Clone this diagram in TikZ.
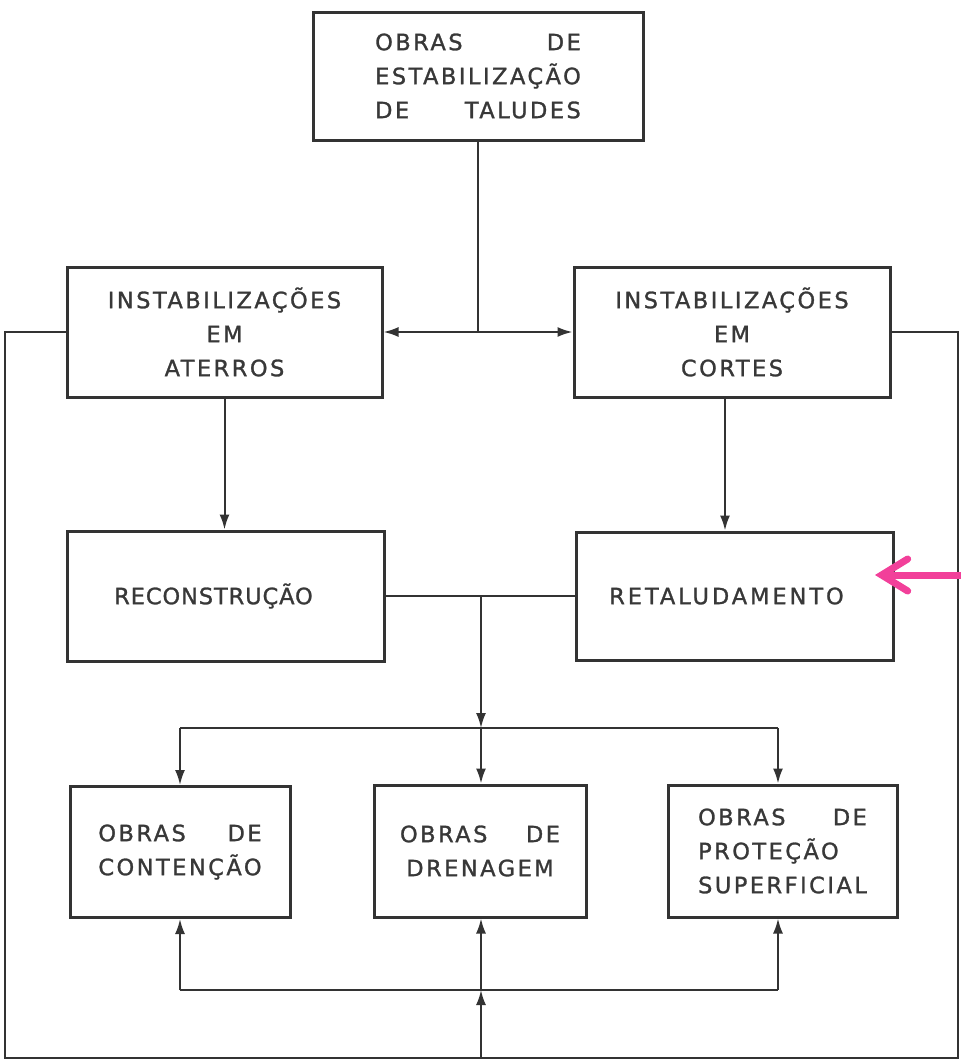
\documentclass[tikz,border=0pt]{standalone}
\usepackage{fontspec}
\usepackage{calc}
\setmainfont{DejaVu Sans}[LetterSpace=11,FakeBold=1.2]
\usetikzlibrary{arrows.meta,calc}
\definecolor{ink}{HTML}{333333}
\definecolor{txt}{HTML}{383838}
\definecolor{pinkmark}{HTML}{F2409A}
\newcommand\jline[3]{\makebox[#1][s]{#2 #3}}
\begin{document}
\begin{tikzpicture}[x=1pt,y=-1pt,
  box/.style={draw=ink,line width=3pt,rectangle,inner sep=0pt,align=center,
    text=txt,font=\fontsize{22.5}{34}\selectfont},
  conn/.style={draw=ink,line width=2pt},
  arr/.style={conn,-{Latex[length=15pt,width=10pt]}},
  darr/.style={conn,{Latex[length=15pt,width=10pt]}-{Latex[length=15pt,width=10pt]}}]
\useasboundingbox[fill=white] (0,0) rectangle (961,1061);

\node[box,minimum width=330pt,minimum height=128pt] (top) at (478,76)
  {\jline{\widthof{ESTABILIZAÇÃO}}{OBRAS}{DE}\\ESTABILIZAÇÃO\\\jline{\widthof{ESTABILIZAÇÃO}}{DE}{TALUDES}};
\node[box,minimum width=315pt,minimum height=130pt] (ater) at (224.5,332)
  {INSTABILIZAÇÕES\\EM\\ATERROS};
\node[box,minimum width=316pt,minimum height=130pt] (cort) at (732,332)
  {INSTABILIZAÇÕES\\EM\\CORTES};
\node[box,minimum width=317pt,minimum height=130pt,
  font=\fontsize{22.5}{34}\selectfont\addfontfeatures{LetterSpace=4}] (recon) at (225.5,596)
  {RECONSTRUÇÃO\hspace*{24pt}};
\node[box,minimum width=317pt,minimum height=128pt,
  font=\fontsize{22.5}{34}\selectfont\addfontfeatures{LetterSpace=13}] (retal) at (734.5,596)
  {RETALUDAMENTO\hspace*{16pt}};
\node[box,minimum width=220pt,minimum height=131pt] (cont) at (180,852)
  {\jline{\widthof{CONTENÇÃO}}{OBRAS}{DE}\\CONTENÇÃO};
\node[box,minimum width=212pt,minimum height=132pt] (dren) at (480,851)
  {\jline{160pt}{OBRAS}{DE}\\DRENAGEM};
\node[box,minimum width=229pt,minimum height=132pt] (prot) at (782.5,851)
  {\jline{\widthof{SUPERFICIAL}}{OBRAS}{DE}\\\makebox[\widthof{SUPERFICIAL}][l]{PROTEÇÃO}\\SUPERFICIAL};

% top to the two instability boxes
\draw[darr] (ater.east) -- (cort.west);
\coordinate (j1) at ($(ater.east)!0.5!(cort.west)$);
\draw[conn] (top.south) -- (top.south |- j1);

% down to reconstruction / retaludamento
\draw[arr] (ater.south) -- (ater.south |- recon.north);
\coordinate (cs) at ([xshift=-7pt]cort.south);
\draw[arr] (cs) -- (cs |- retal.north);

% link between them and bus to the bottom boxes
\draw[conn] (recon.east) -- (retal.west);
\coordinate (j2) at (481,596);
\coordinate (bus) at (481,728);
\draw[arr] (j2) -- (bus);
\coordinate (busL) at (cont.north |- bus);
\coordinate (busR) at (778,728);
\draw[conn] (busL) -- (busR);
\draw[arr] (busL) -- (cont.north);
\draw[arr] (bus) -- (bus |- dren.north);
\draw[arr] (busR) -- (busR |- prot.north);

% lower bus and outer loop
\coordinate (lb) at (481,990);
\coordinate (lbL) at (cont.south |- lb);
\coordinate (lbR) at (778,990);
\draw[conn] (lbL) -- (lbR);
\draw[arr] (lbL) -- (cont.south);
\draw[arr] (lb) -- (lb |- dren.south);
\draw[arr] (lbR) -- (lbR |- prot.south);
\coordinate (lp) at (481,1058);
\draw[arr] (lp) -- (lb);
\draw[conn] (ater.west) -- (5,332) -- (5,1058) -- (958,1058) -- (958,332) -- (cort.east);

% pink marker arrow
\coordinate (pk) at (961,575);
\coordinate (pkt) at (875,575);
\draw[draw=pinkmark,line width=7pt,line cap=round,-{Straight Barb[length=26pt,width=32pt,line cap=round]}] (pk) -- (pkt);
\end{tikzpicture}
\end{document}
